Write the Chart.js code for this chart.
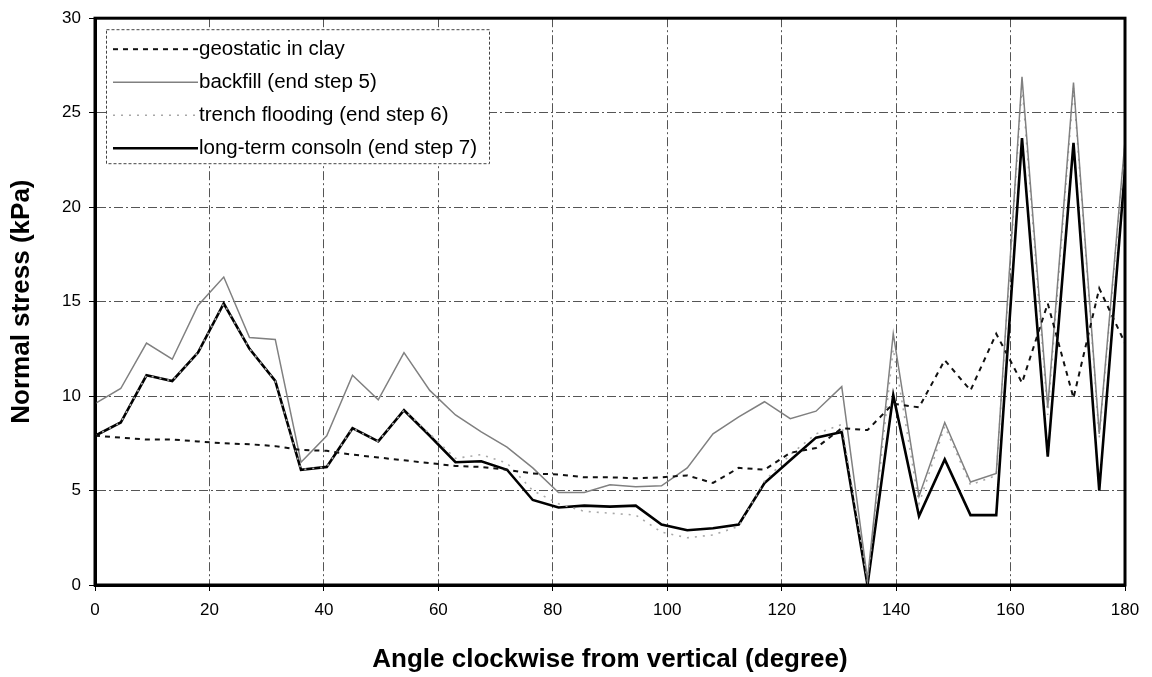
<!DOCTYPE html>
<html>
<head>
<meta charset="utf-8">
<script src="https://cdn.jsdelivr.net/npm/chart.js@4"></script>
<style>
	html, body { margin: 0; padding: 0; background: #fff; }
	#wrap { width: 1152px; height: 677px; }
</style>
</head>
<body>
<div id="wrap"><canvas id="myChart" width="1152" height="677"></canvas></div>
<script>
// angle clockwise from vertical, degrees
const angles = [0, 4.5, 9, 13.5, 18, 22.5, 27, 31.5, 36, 40.5, 45, 49.5, 54, 58.5, 63, 67.5, 72, 76.5, 81, 85.5, 90, 94.5, 99, 103.5, 108, 112.5, 117, 121.5, 126, 130.5, 135, 139.5, 144, 148.5, 153, 157.5, 162, 166.5, 171, 175.5, 180];

// normal stress, kPa
const geostatic = [7.9, 7.8, 7.7, 7.7, 7.6, 7.5, 7.45, 7.35, 7.15, 7.1, 6.9, 6.75, 6.6, 6.45, 6.3, 6.25, 6.1, 5.9, 5.85, 5.7, 5.7, 5.65, 5.7, 5.8, 5.4, 6.2, 6.1, 7.0, 7.25, 8.3, 8.2, 9.6, 9.4, 11.9, 10.3, 13.3, 10.7, 14.9, 9.9, 15.7, 12.8];
const backfill = [9.6, 10.4, 12.8, 11.95, 14.8, 16.3, 13.1, 13.0, 6.5, 7.9, 11.1, 9.8, 12.3, 10.3, 9.0, 8.1, 7.3, 6.2, 4.9, 4.9, 5.3, 5.2, 5.25, 6.2, 8.0, 8.9, 9.7, 8.8, 9.2, 10.5, 0.3, 13.3, 4.7, 8.6, 5.45, 5.9, 26.9, 9.4, 26.6, 8.0, 23.5];
const flooding = [7.9, 8.6, 11.1, 10.8, 12.3, 14.9, 12.5, 10.8, 6.1, 6.25, 8.3, 7.6, 9.25, 8.0, 6.7, 6.9, 6.45, 5.0, 4.3, 3.9, 3.8, 3.7, 2.8, 2.5, 2.65, 3.1, 5.5, 6.9, 8.0, 8.5, 0.2, 12.5, 4.3, 8.4, 5.3, 5.8, 26.5, 9.0, 26.3, 7.8, 23.3];
const consoln = [7.9, 8.6, 11.1, 10.8, 12.3, 14.9, 12.5, 10.8, 6.1, 6.25, 8.3, 7.6, 9.25, 7.9, 6.5, 6.55, 6.1, 4.5, 4.1, 4.2, 4.15, 4.2, 3.2, 2.9, 3.0, 3.2, 5.4, 6.6, 7.8, 8.1, 0, 10.05, 3.65, 6.65, 3.7, 3.7, 23.65, 6.8, 23.4, 5.0, 22.0];

const seriesNames = ["geostatic in clay", "backfill (end step 5)", "trench flooding (end step 6)", "long-term consoln (end step 7)"];
const xTicks = [0, 20, 40, 60, 80, 100, 120, 140, 160, 180];
const yTicks = [0, 5, 10, 15, 20, 25, 30];

const fontFamily = "'Liberation Sans', Arial, sans-serif";
const ctx = document.getElementById("myChart");

const toPoints = (vals) => vals.map((v, i) => ({ x: angles[i], y: v }));

const styles = [
	{ color: "#111", width: 2, dash: [5, 5] },
	{ color: "#808080", width: 1.5, dash: [] },
	{ color: "#a8a8a8", width: 1.6, dash: [2, 6] },
	{ color: "#000", width: 2.6, dash: [] },
];

const makeSet = (i, vals) => ({
	label: seriesNames[i],
	data: toPoints(vals),
	borderColor: styles[i].color,
	backgroundColor: styles[i].color,
	borderWidth: styles[i].width,
	borderDash: styles[i].dash,
	pointRadius: 0,
	tension: 0,
	fill: false,
});

// legend drawn inside plot, top left, with a dashed frame
const boxLegend = {
	id: "boxLegend",
	afterDraw(chart) {
		const c = chart.ctx;
		const left = chart.chartArea.left + 11;
		const top = chart.chartArea.top + 11;
		const w = 383;
		const h = 134;
		c.save();
		c.fillStyle = "#fff";
		c.fillRect(left, top, w, h);
		c.setLineDash([3, 2]);
		c.strokeStyle = "#444";
		c.lineWidth = 1;
		c.strokeRect(left + 0.5, top + 0.5, w, h);
		c.font = "20.5px " + fontFamily;
		c.textBaseline = "middle";
		chart.data.datasets.forEach((ds, i) => {
			const y = top + 20 + i * 33;
			c.beginPath();
			c.setLineDash(ds.borderDash);
			c.strokeStyle = ds.borderColor;
			c.lineWidth = ds.borderWidth;
			c.moveTo(left + 7, y);
			c.lineTo(left + 92, y);
			c.stroke();
			c.fillStyle = "#000";
			c.fillText(ds.label, left + 93, y);
		});
		c.restore();
	},
};

// heavy frame round the plot area
const plotFrame = {
	id: "plotFrame",
	afterDatasetsDraw(chart) {
		const a = chart.chartArea;
		const c = chart.ctx;
		c.save();
		c.strokeStyle = "#000";
		c.lineWidth = 3;
		c.strokeRect(a.left, a.top, a.right - a.left, a.bottom - a.top);
		c.restore();
	},
};

const gridStyle = {
	color: "#555",
	lineWidth: 1,
	tickLength: 6,
	tickColor: "#000",
	tickBorderDash: [],
	z: -1,
};
const borderStyle = { display: true, color: "#000", width: 3, dash: [9, 3, 2, 3] };

const myChart = new Chart(ctx, {
	type: "line",
	data: {
		datasets: [makeSet(0, geostatic), makeSet(1, backfill), makeSet(2, flooding), makeSet(3, consoln)],
	},
	options: {
		responsive: false,
		animation: false,
		layout: { padding: { top: 18, right: 27, left: 0, bottom: 0 } },
		plugins: {
			legend: { display: false },
			tooltip: { enabled: false },
		},
		scales: {
			x: {
				type: "linear",
				min: 0,
				max: 180,
				afterBuildTicks: (scale) => {
					scale.ticks = xTicks.map((v) => ({ value: v }));
				},
				afterFit: (scale) => {
					scale.height = 92;
				},
				grid: Object.assign({}, gridStyle),
				border: Object.assign({}, borderStyle),
				ticks: {
					color: "#000",
					font: { family: fontFamily, size: 17 },
					padding: 9,
					maxRotation: 0,
				},
				title: {
					display: true,
					text: "Angle clockwise from vertical (degree)",
					color: "#000",
					font: { family: fontFamily, size: 26, weight: "bold" },
					padding: { top: 10, bottom: 2 },
				},
			},
			y: {
				type: "linear",
				min: 0,
				max: 30,
				afterBuildTicks: (scale) => {
					scale.ticks = yTicks.map((v) => ({ value: v }));
				},
				afterFit: (scale) => {
					scale.width = 95;
				},
				grid: Object.assign({}, gridStyle),
				border: Object.assign({}, borderStyle),
				ticks: {
					color: "#000",
					font: { family: fontFamily, size: 17 },
					padding: 8,
				},
				title: {
					display: true,
					text: "Normal stress (kPa)",
					color: "#000",
					font: { family: fontFamily, size: 26, weight: "bold" },
					padding: { top: 6, bottom: 8 },
				},
			},
		},
	},
	plugins: [plotFrame, boxLegend],
});
</script>
</body>
</html>
